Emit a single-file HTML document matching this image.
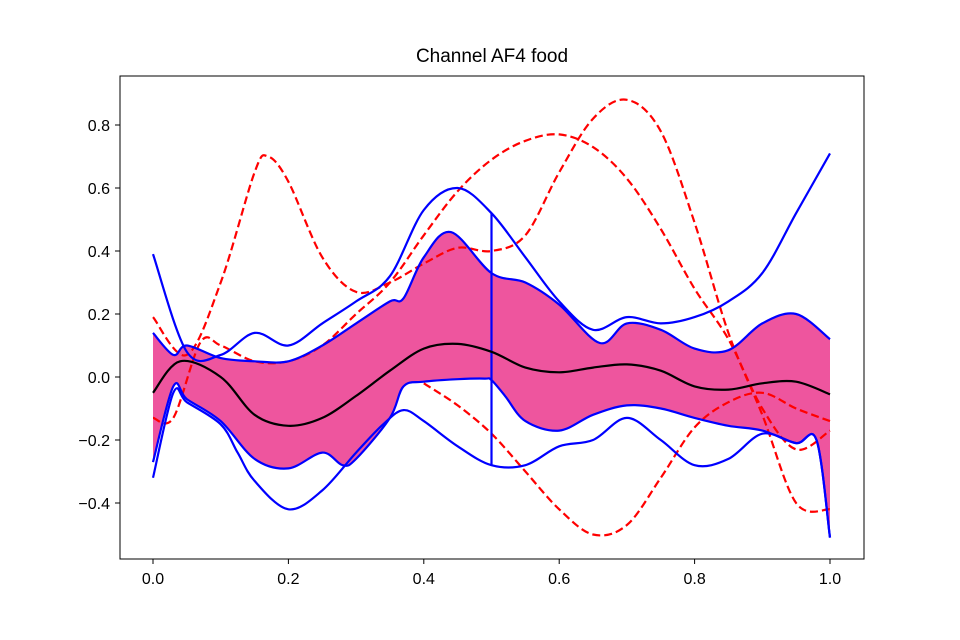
<!DOCTYPE html>
<html><head><meta charset="utf-8">
<style>
body{margin:0;background:#fff;}
svg{display:block;font-family:"Liberation Sans","DejaVu Sans",sans-serif;}
</style></head>
<body>
<svg id="chart" width="960" height="640" viewBox="0 0 960 640">
<rect width="960" height="640" fill="#fff"/>
<text x="492" y="62" text-anchor="middle" font-size="19">Channel AF4 food</text>
<g id="marks"></g>
<rect x="120" y="76" width="744" height="483" fill="none" stroke="#000" stroke-width="1"/>
<g id="axes"></g>
</svg>
<script>
const xTicks=[0,0.2,0.4,0.6,0.8,1.0];
const xTickLabels=["0.0","0.2","0.4","0.6","0.8","1.0"];
const yTicks=[-0.4,-0.2,0,0.2,0.4,0.6,0.8];
const yTickLabels=["\u22120.4","\u22120.2","0.0","0.2","0.4","0.6","0.8"];
const medianX=[0,0.04,0.1,0.15,0.2,0.25,0.3,0.35,0.4,0.45,0.5,0.55,0.6,0.65,0.7,0.75,0.8,0.85,0.9,0.95,1.0];
const medianY=[-0.05,0.05,0.0,-0.12,-0.155,-0.13,-0.06,0.02,0.09,0.105,0.08,0.03,0.015,0.03,0.04,0.02,-0.03,-0.04,-0.02,-0.015,-0.055];
const bandUpX=[0,0.03,0.05,0.1,0.15,0.2,0.25,0.3,0.35,0.37,0.4,0.44,0.5,0.55,0.6,0.66,0.7,0.75,0.8,0.85,0.9,0.95,1.0];
const bandUpY=[0.14,0.07,0.1,0.06,0.05,0.05,0.1,0.17,0.24,0.25,0.38,0.46,0.33,0.3,0.23,0.108,0.17,0.15,0.09,0.085,0.17,0.2,0.12];
const bandLoX=[0,0.03,0.05,0.1,0.15,0.2,0.25,0.28,0.3,0.35,0.37,0.4,0.45,0.49,0.5,0.52,0.55,0.6,0.65,0.7,0.75,0.8,0.85,0.9,0.95,0.98,1.0];
const bandLoY=[-0.27,-0.03,-0.07,-0.14,-0.26,-0.29,-0.24,-0.28,-0.26,-0.13,-0.03,-0.015,-0.007,-0.005,-0.01,-0.06,-0.14,-0.17,-0.12,-0.09,-0.1,-0.13,-0.155,-0.17,-0.21,-0.2,-0.51];
const maxX=[0,0.05,0.1,0.15,0.2,0.25,0.3,0.35,0.4,0.45,0.5,0.55,0.6,0.65,0.7,0.75,0.8,0.85,0.9,0.95,1.0];
const maxY=[0.39,0.08,0.07,0.14,0.1,0.17,0.24,0.32,0.53,0.6,0.52,0.38,0.24,0.15,0.19,0.17,0.19,0.24,0.33,0.52,0.71];
const minX=[0,0.03,0.05,0.1,0.125,0.15,0.2,0.25,0.3,0.34,0.37,0.4,0.45,0.5,0.55,0.6,0.65,0.7,0.75,0.8,0.85,0.9,0.95,0.98,1.0];
const minY=[-0.32,-0.05,-0.08,-0.15,-0.24,-0.33,-0.42,-0.36,-0.24,-0.15,-0.105,-0.14,-0.22,-0.28,-0.28,-0.22,-0.2,-0.13,-0.2,-0.28,-0.26,-0.18,-0.21,-0.2,-0.51];
const out1X=[0,0.05,0.1,0.15,0.17,0.2,0.25,0.3,0.35,0.4,0.45,0.5,0.55,0.6,0.65,0.7,0.75,0.8,0.85,0.9,0.95,1.0];
const out1Y=[0.19,0.07,0.3,0.65,0.7,0.62,0.38,0.27,0.3,0.36,0.41,0.4,0.45,0.65,0.82,0.88,0.78,0.49,0.14,-0.12,-0.4,-0.42];
const out2X=[0,0.03,0.07,0.1,0.15,0.2,0.25,0.3,0.35,0.4,0.45,0.5,0.55,0.6,0.65,0.7,0.75,0.8,0.85,0.9,0.95,1.0];
const out2Y=[-0.13,-0.13,0.11,0.1,0.05,0.05,0.1,0.2,0.3,0.45,0.59,0.69,0.75,0.77,0.73,0.63,0.47,0.28,0.12,-0.1,-0.23,-0.17];
const out3X=[0.4,0.45,0.5,0.55,0.6,0.65,0.7,0.75,0.8,0.85,0.9,0.95,1.0];
const out3Y=[-0.02,-0.09,-0.18,-0.3,-0.42,-0.5,-0.47,-0.32,-0.16,-0.08,-0.05,-0.1,-0.14];
const whiskerX=[0.5];
const whiskerTop=[0.52];
const whiskerBot=[-0.28];

const sx=v=>153+v*677;
const sy=v=>377-v*315;
const NS="http://www.w3.org/2000/svg";
function pathD(xs,ys,start){
  const p=xs.map((x,i)=>[sx(x),sy(ys[i])]);
  let d=(start||"M")+p[0][0].toFixed(1)+","+p[0][1].toFixed(1);
  for(let i=0;i<p.length-1;i++){
    const p0=p[Math.max(i-1,0)],p1=p[i],p2=p[i+1],p3=p[Math.min(i+2,p.length-1)];
    const c1=[p1[0]+(p2[0]-p0[0])/6,p1[1]+(p2[1]-p0[1])/6];
    const c2=[p2[0]-(p3[0]-p1[0])/6,p2[1]-(p3[1]-p1[1])/6];
    d+=" C"+c1.map(v=>v.toFixed(1)).join(",")+" "+c2.map(v=>v.toFixed(1)).join(",")+" "+p2[0].toFixed(1)+","+p2[1].toFixed(1);
  }
  return d;
}
const g=document.getElementById('marks');
function addPath(d,attrs,name){
  const e=document.createElementNS(NS,'path');
  e.setAttribute('d',d);
  for(const k in attrs)e.setAttribute(k,attrs[k]);
  
  
  g.appendChild(e);
}
const rx=bandLoX.slice().reverse(), ry=bandLoY.slice().reverse();
addPath(pathD(bandUpX,bandUpY)+" "+pathD(rx,ry,"L")+" Z",{fill:"#ee559e",stroke:"none"},'central-region-band');
const dash={fill:"none",stroke:"#ff0000","stroke-width":2.2,"stroke-dasharray":"8,4"};
addPath(pathD(out1X,out1Y),dash,'outlier-curve-1');
addPath(pathD(out2X,out2Y),dash,'outlier-curve-2');
addPath(pathD(out3X,out3Y),dash,'outlier-curve-3');
const blue={fill:"none",stroke:"#0000ff","stroke-width":2.2};
addPath(pathD(bandUpX,bandUpY),blue,'central-region-upper');
addPath(pathD(bandLoX,bandLoY),blue,'central-region-lower');
addPath(pathD(maxX,maxY),blue,'max-envelope');
addPath(pathD(minX,minY),blue,'min-envelope');
whiskerX.forEach((x,i)=>{
  addPath("M"+sx(x)+","+sy(whiskerTop[i])+" L"+sx(x)+","+sy(whiskerBot[i]),blue,'whisker');
});
addPath(pathD(medianX,medianY),{fill:"none",stroke:"#000","stroke-width":2.2},'median-curve');
const a=document.getElementById('axes');
xTicks.forEach((v,i)=>{
  const l=document.createElementNS(NS,'line');
  l.setAttribute('x1',sx(v));l.setAttribute('x2',sx(v));l.setAttribute('y1',559);l.setAttribute('y2',564);l.setAttribute('stroke','#000');
  
  
  a.appendChild(l);
  const t=document.createElementNS(NS,'text');
  t.setAttribute('x',sx(v));t.setAttribute('y',584);t.setAttribute('text-anchor','middle');t.setAttribute('font-size','16');
  t.textContent=xTickLabels[i];
  
  
  a.appendChild(t);
});
yTicks.forEach((v,i)=>{
  const l=document.createElementNS(NS,'line');
  l.setAttribute('x1',115);l.setAttribute('x2',120);l.setAttribute('y1',sy(v));l.setAttribute('y2',sy(v));l.setAttribute('stroke','#000');
  
  
  a.appendChild(l);
  const t=document.createElementNS(NS,'text');
  t.setAttribute('x',110);t.setAttribute('y',sy(v)+6);t.setAttribute('text-anchor','end');t.setAttribute('font-size','16');
  t.textContent=yTickLabels[i];
  
  
  a.appendChild(t);
});
</script>
</body></html>
